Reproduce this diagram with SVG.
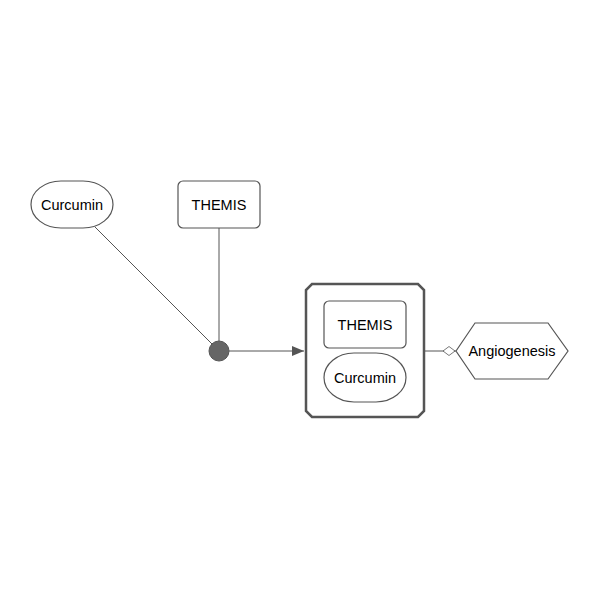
<svg xmlns="http://www.w3.org/2000/svg" width="600" height="600" viewBox="0 0 600 600">
  <defs>
    <style>
      .node { fill: #ffffff; stroke: #555555; stroke-width: 1.2; }
      .complex { fill: #ffffff; stroke: #555555; stroke-width: 2.5; }
      .label { font-family: "Liberation Sans", Arial, sans-serif; font-size: 14.5px; fill: #000000; text-anchor: middle; dominant-baseline: central; }
      .edge { stroke: #555555; stroke-width: 1; fill: none; }
    </style>
    <marker id="arrow" viewBox="0 0 12 10" refX="12" refY="5" markerWidth="12" markerHeight="10" markerUnits="userSpaceOnUse" orient="auto">
      <path d="M0,0 L12,5 L0,10 Z" fill="#555555"/>
    </marker>
    <marker id="modulation" viewBox="0 0 14 10" refX="14" refY="5" markerWidth="14" markerHeight="10" markerUnits="userSpaceOnUse" orient="auto">
      <path d="M1,5 L7,0.5 L13,5 L7,9.5 Z" fill="#ffffff" stroke="#555555" stroke-width="0.8"/>
    </marker>
  </defs>
  <rect width="600" height="600" fill="#ffffff"/>

  <g id="connectors">
    <line class="edge" x1="95" y1="227" x2="213" y2="345"/>
    <line class="edge" x1="219" y1="228" x2="219" y2="341"/>
    <line class="edge" x1="229" y1="351" x2="304" y2="351" marker-end="url(#arrow)"/>
    <line class="edge" x1="425" y1="351" x2="456" y2="351" marker-end="url(#modulation)"/>
    <circle id="process" cx="219" cy="351" r="10" fill="#666666" stroke="#555555" stroke-width="1"/>
  </g>

  <g id="curcumin">
    <rect class="node" x="31" y="181" width="82" height="47" rx="30" ry="23.5"/>
    <text class="label" x="72" y="205">Curcumin</text>
  </g>

  <g id="themis">
    <rect class="node" x="178" y="181" width="82" height="47" rx="5" ry="5"/>
    <text class="label" x="219" y="205">THEMIS</text>
  </g>

  <g id="complex">
    <path class="complex" d="M312,284 L418,284 L424,290 L424,411 L418,417 L312,417 L306,411 L306,290 Z"/>
    <g id="complex-themis">
      <rect class="node" x="324" y="301" width="82" height="47" rx="5" ry="5"/>
      <text class="label" x="365" y="325">THEMIS</text>
    </g>
    <g id="complex-curcumin">
      <rect class="node" x="324" y="353" width="82" height="49" rx="30" ry="24.5"/>
      <text class="label" x="365" y="378">Curcumin</text>
    </g>
  </g>

  <g id="angiogenesis">
    <path class="node" d="M456,351 L475,323 L548,323 L568,351 L548,379 L475,379 Z"/>
    <text class="label" x="512" y="351">Angiogenesis</text>
  </g>
</svg>
